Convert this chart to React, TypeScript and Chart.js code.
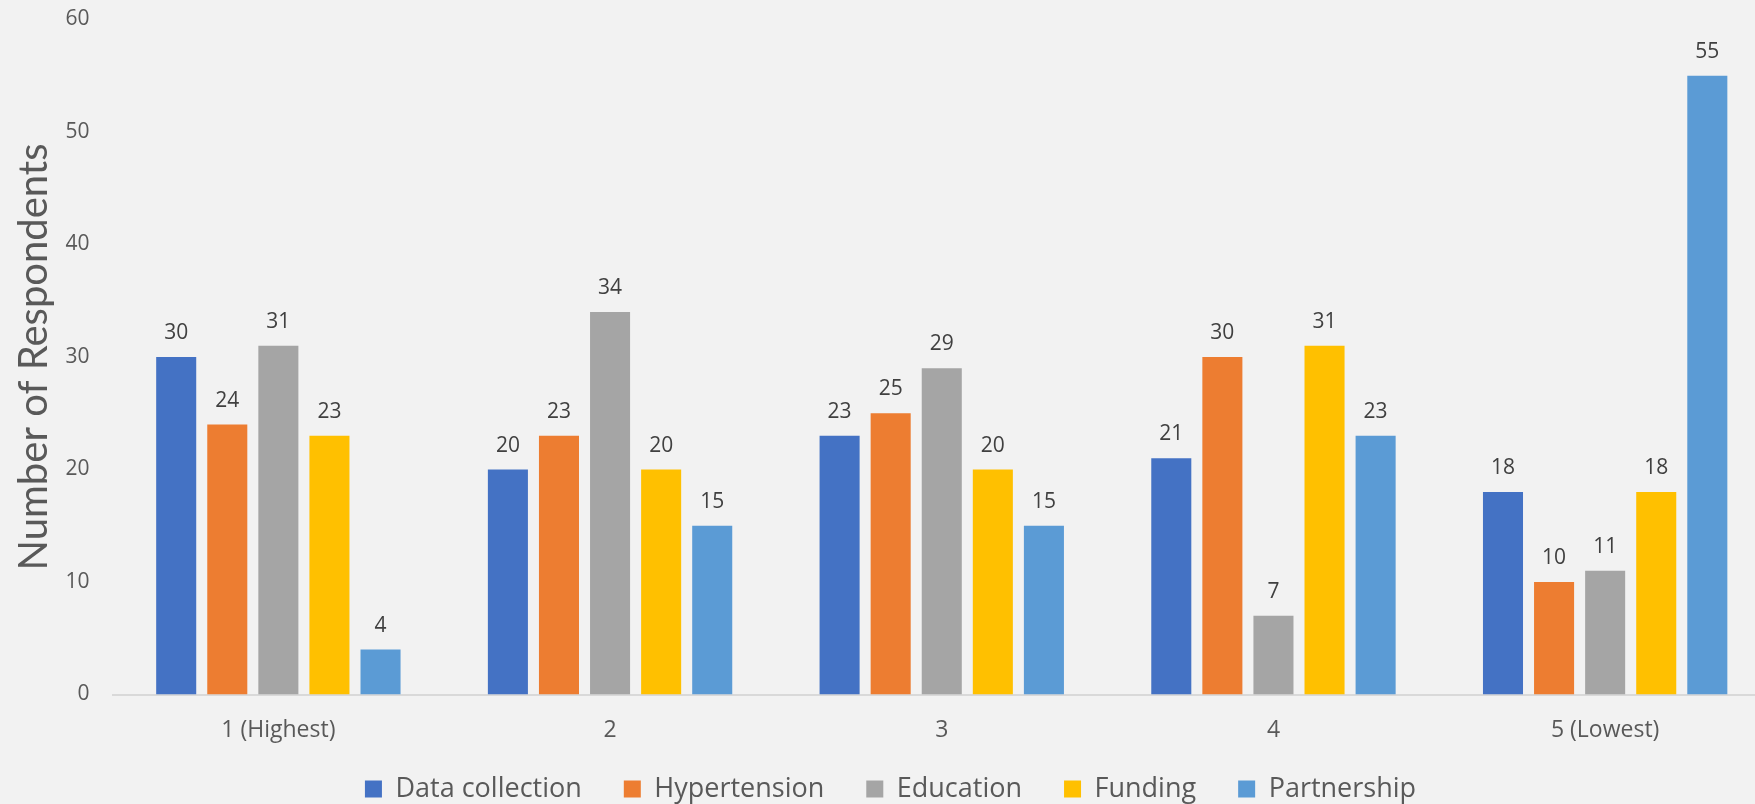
import React, { useEffect, useRef } from "react";
import { Chart, registerables } from "chart.js";

Chart.register(...registerables);

const categories = ["1 (Highest)", "2", "3", "4", "5 (Lowest)"];
const seriesNames = ["Data collection", "Hypertension", "Education", "Funding", "Partnership"];
const dataCollection = [30, 20, 23, 21, 18];
const hypertension = [24, 23, 25, 30, 10];
const education = [31, 34, 29, 7, 11];
const funding = [23, 20, 20, 31, 18];
const partnership = [4, 15, 15, 23, 55];
const seriesColors = ["#4472C4", "#ED7D31", "#A5A5A5", "#FFC000", "#5B9BD5"];
const yTicks = [0, 10, 20, 30, 40, 50, 60];

const BG = "#F2F2F2";
const FONT = "'Open Sans', sans-serif";
const LEGEND_SHIFT = -32;

const bgPlugin = {
  id: "bgFill",
  beforeDraw(chart: any) {
    const ctx = chart.ctx;
    ctx.save();
    ctx.fillStyle = BG;
    ctx.fillRect(0, 0, chart.width, chart.height);
    ctx.restore();
  },
};

const legendShiftPlugin = {
  id: "legendShift",
  afterLayout(chart: any) {
    const lg = chart.legend;
    if (lg) {
      lg.top += LEGEND_SHIFT;
      lg.bottom += LEGEND_SHIFT;
    }
  },
};

const labelPlugin = {
  id: "barValueLabels",
  afterDatasetsDraw(chart: any) {
    const ctx = chart.ctx;
    ctx.save();
    ctx.font = `21px ${FONT}`;
    ctx.fillStyle = "#404040";
    ctx.textAlign = "center";
    ctx.textBaseline = "alphabetic";
    chart.data.datasets.forEach((ds: any, i: number) => {
      const meta = chart.getDatasetMeta(i);
      meta.data.forEach((el: any, j: number) => {
        ctx.fillText(String(ds.data[j]), el.x, el.y - 18);
      });
    });
    ctx.restore();
  },
};

export default function App() {
  const ref = useRef<HTMLCanvasElement | null>(null);

  useEffect(() => {
    if (!ref.current) return;
    const all = [dataCollection, hypertension, education, funding, partnership];
    const chart = new Chart(ref.current, {
      type: "bar",
      data: {
        labels: categories,
        datasets: all.map((d, i) => ({
          label: seriesNames[i],
          data: d,
          backgroundColor: seriesColors[i],
          borderWidth: 0,
          categoryPercentage: 0.77,
          barPercentage: 0.784,
        })),
      },
      options: {
        responsive: false,
        animation: false,
        devicePixelRatio: 1,
        layout: { padding: { top: 19.5, right: 11, bottom: -40.5, left: 10 } },
        plugins: {
          legend: {
            position: "bottom",
            labels: {
              color: "#595959",
              font: { family: FONT, size: 27 },
              boxWidth: 17,
              boxHeight: 17,
              padding: 42,
            },
          },
          tooltip: { enabled: false },
        },
        scales: {
          x: {
            grid: { display: false, drawTicks: false },
            border: { display: true, color: "#D9D9D9", width: 2 },
            ticks: {
              color: "#595959",
              font: { family: FONT, size: 23, lineHeight: 1.2 },
              padding: 21.7,
            },
          },
          y: {
            min: 0,
            max: 60,
            afterBuildTicks(scale: any) {
              scale.ticks = yTicks.map((v) => ({ value: v }));
            },
            afterFit(scale: any) {
              scale.paddingTop = 0;
              scale.paddingBottom = 0;
            },
            grid: { display: false, drawTicks: false },
            border: { display: false },
            ticks: {
              color: "#595959",
              font: { family: FONT, size: 21 },
              padding: 23,
            },
            title: {
              display: true,
              text: "Number of Respondents",
              color: "#595959",
              font: { family: "Lato, sans-serif", size: 40 },
              padding: { top: 0, bottom: -15.5 },
            },
          },
        },
      },
      plugins: [bgPlugin, legendShiftPlugin, labelPlugin],
    });
    return () => chart.destroy();
  }, []);

  return (
    <div
      style={{
        position: "fixed",
        top: 0,
        left: 0,
        width: 1755,
        height: 804,
        overflow: "hidden",
        background: BG,
      }}
    >
      <canvas ref={ref} width={1782} height={804} style={{ display: "block" }} />
    </div>
  );
}
